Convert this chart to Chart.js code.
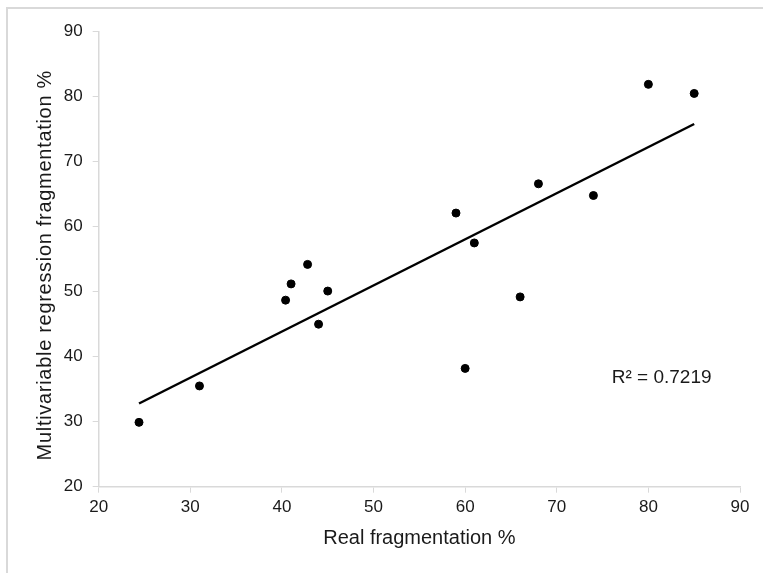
<!DOCTYPE html>
<html>
<head>
<meta charset="utf-8">
<script src="https://cdn.jsdelivr.net/npm/chart.js@4/dist/chart.umd.min.js"></script>
<style>
  html, body { margin: 0; padding: 0; background: #ffffff; }
  #wrap { width: 763px; height: 573px; position: relative; }
</style>
</head>
<body>
<div id="wrap"><canvas id="c" width="763" height="573"></canvas></div>
<script>
// Data
const realFragmentation = [24.4, 31.0, 40.4, 41.0, 42.8, 44.0, 45.0, 59.0, 60.0, 61.0, 66.0, 68.0, 74.0, 80.0, 85.0];
const regressionFragmentation = [29.9, 35.5, 48.7, 51.2, 54.2, 45.0, 50.1, 62.1, 38.2, 57.5, 49.2, 66.6, 64.8, 81.9, 80.5];
const trendX = [24.4, 85.0];
const trendY = [32.8, 75.8];
const rSquaredText = 'R² = 0.7219';
const rLabelAt = [76.0, 36.7];
const axisMin = 20, axisMax = 90, axisStep = 10;
const xTitle = 'Real fragmentation %';
const yTitle = 'Multivariable regression fragmentation %';

const FONT = "'Liberation Sans', Arial, sans-serif";
const TEXT = '#1a1a1a';
const AXIS = '#d9d9d9';

const points = realFragmentation.map((x, i) => ({ x: x, y: regressionFragmentation[i] }));
const trend = trendX.map((x, i) => ({ x: x, y: trendY[i] }));

const frame = {
  id: 'frame',
  beforeDraw(chart) {
    const ctx = chart.ctx;
    ctx.save();
    ctx.fillStyle = '#ffffff';
    ctx.fillRect(0, 0, chart.width, chart.height);
    ctx.strokeStyle = '#d9d9d9';
    ctx.lineWidth = 2;
    ctx.strokeRect(7, 8, 800, 600);
    ctx.restore();
  },
  afterDraw(chart) {
    const ctx = chart.ctx;
    const xs = chart.scales.x, ys = chart.scales.y;
    ctx.save();
    ctx.fillStyle = TEXT;
    ctx.font = "19px " + FONT;
    ctx.textAlign = 'left';
    ctx.textBaseline = 'middle';
    ctx.fillText(rSquaredText, xs.getPixelForValue(rLabelAt[0]), ys.getPixelForValue(rLabelAt[1]));
    // y axis title
    ctx.translate(45.3, (chart.chartArea.top + chart.chartArea.bottom) / 2 + 6);
    ctx.rotate(-Math.PI / 2);
    ctx.font = "20px " + FONT;
    ctx.textAlign = 'center';
    ctx.textBaseline = 'middle';
    try { ctx.letterSpacing = '0.7px'; } catch (e) {}
    ctx.fillText(yTitle, 0, 0);
    ctx.restore();
  }
};

new Chart(document.getElementById('c'), {
  type: 'scatter',
  data: {
    datasets: [
      {
        label: 'data',
        data: points,
        backgroundColor: '#000000',
        borderColor: '#000000',
        pointRadius: 4,
        pointHoverRadius: 4,
        order: 1
      },
      {
        label: 'trend',
        type: 'line',
        data: trend,
        borderColor: '#000000',
        borderWidth: 2.5,
        pointRadius: 0,
        fill: false,
        order: 2
      }
    ]
  },
  plugins: [frame],
  options: {
    responsive: false,
    animation: false,
    devicePixelRatio: 1,
    layout: { padding: { left: 0, top: 31.7, right: 23, bottom: 0 } },
    plugins: { legend: { display: false }, tooltip: { enabled: false } },
    scales: {
      x: {
        type: 'linear',
        min: axisMin, max: axisMax,
        afterFit(s) { s.height = 86.3; },
        ticks: { stepSize: axisStep, color: TEXT, font: { family: FONT, size: 17 }, padding: 4, maxRotation: 0 },
        grid: { drawOnChartArea: false, drawTicks: true, tickLength: 6, color: AXIS, lineWidth: 1 },
        border: { color: AXIS, width: 1.5 },
        title: { display: true, text: xTitle, color: TEXT, font: { family: FONT, size: 20 }, padding: { top: 0, bottom: 23 } }
      },
      y: {
        type: 'linear',
        min: axisMin, max: axisMax,
        afterFit(s) { s.width = 98.7; },
        ticks: { stepSize: axisStep, color: TEXT, font: { family: FONT, size: 17 }, padding: 10 },
        grid: { drawOnChartArea: false, drawTicks: true, tickLength: 6, color: AXIS, lineWidth: 1 },
        border: { color: AXIS, width: 1.5 },
        title: { display: false }
      }
    }
  }
});
</script>
</body>
</html>
